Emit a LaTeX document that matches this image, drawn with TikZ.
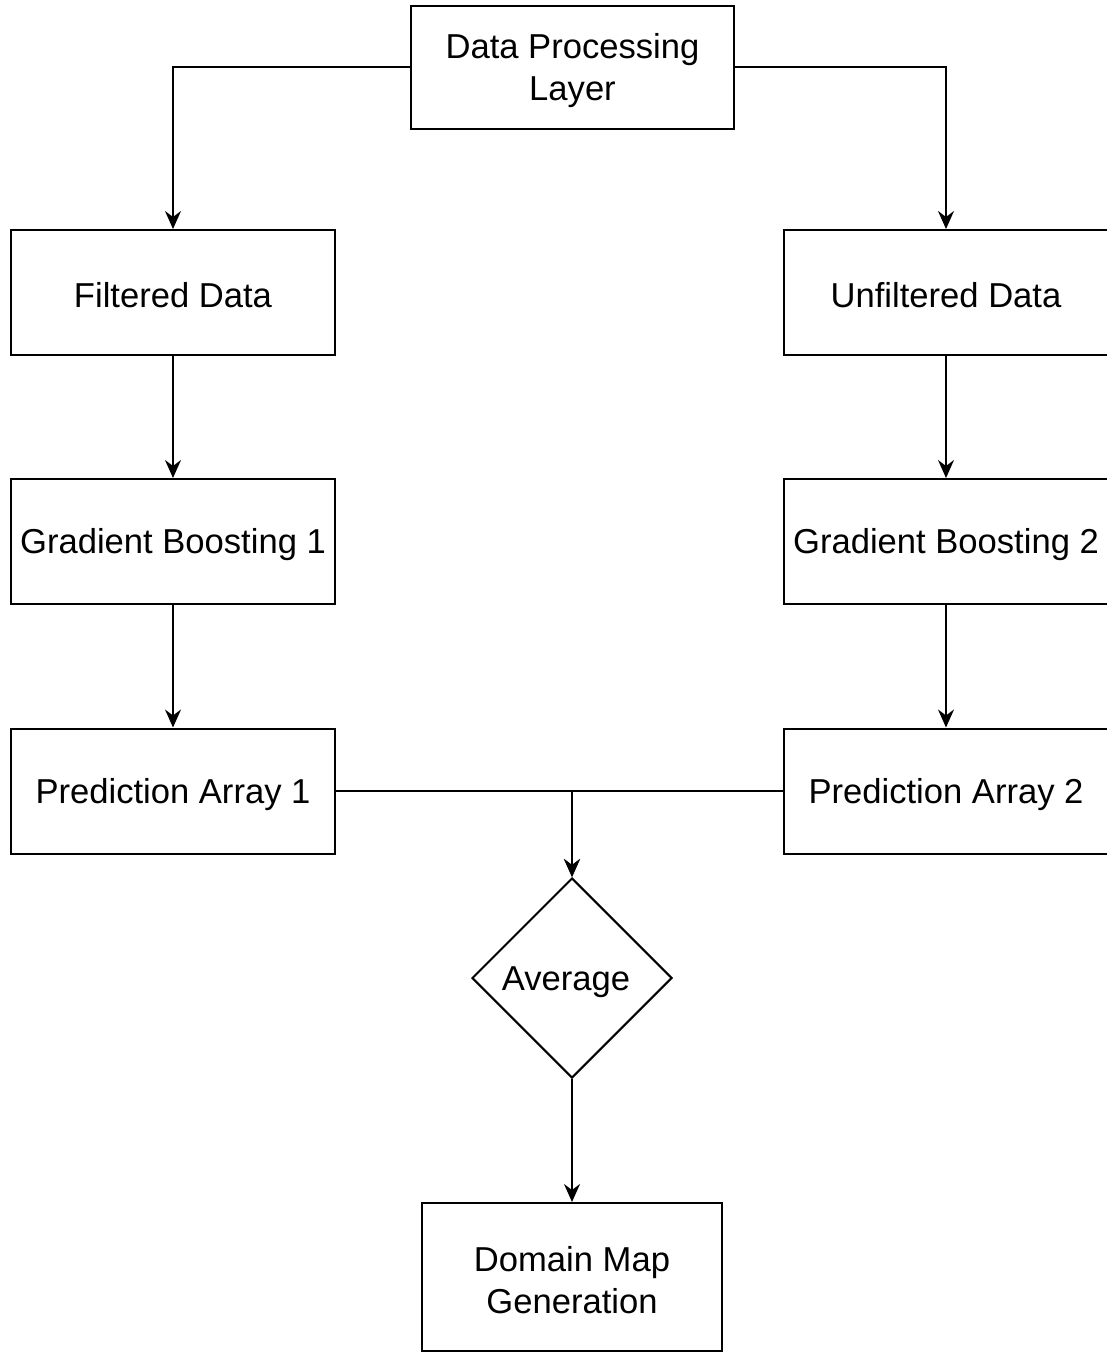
\documentclass[tikz,border=0pt]{standalone}
\usepackage{fontspec}
\setmainfont{Liberation Sans}
\usetikzlibrary{arrows.meta,shapes.geometric}
\newcommand\lowstrut{\rule{0pt}{15.6pt}}
\begin{document}
\begin{tikzpicture}[x=0.5pt,y=-0.5pt,
  every node/.style={font=\fontsize{17.3}{21}\selectfont, align=center},
  box/.style={draw, line width=1pt, rectangle, inner sep=0pt},
  rowbox/.style={box, minimum width=162pt, minimum height=62.5pt},
  decide/.style={draw, line width=1pt, diamond, inner sep=0pt, minimum width=100pt, minimum height=100pt},
  conn/.style={line width=1pt},
  arr/.style={conn, -{Stealth[length=9pt,width=8pt,inset=3pt]}}]
\useasboundingbox (0,0) rectangle (1107,1353);
\node[box, minimum width=161.5pt, minimum height=61.5pt] (top) at (572.5,67.5) {Data Processing\lowstrut\\Layer};
\node[rowbox] (filt) at (173,292.5) {\lowstrut Filtered Data};
\node[rowbox] (unf) at (946,292.5) {\lowstrut Unfiltered Data};
\node[rowbox] (gb1) at (173,541.5) {\lowstrut Gradient Boosting 1};
\node[rowbox] (gb2) at (946,541.5) {\lowstrut Gradient Boosting 2};
\node[rowbox] (pa1) at (173,791) {\lowstrut Prediction Array 1};
\node[rowbox] (pa2) at (946,791) {\lowstrut Prediction Array 2};
\node[decide] (avg) at (572,978) {\hspace*{-6pt}\lowstrut Average};
\node[box, minimum width=150pt, minimum height=74pt] (dom) at (572,1277) {Domain Map\lowstrut\\Generation};
\draw[arr] (top.west) -| (filt.north);
\draw[arr] (top.east) -| (unf.north);
\draw[arr] (filt) -- (gb1);
\draw[arr] (gb1) -- (pa1);
\draw[arr] (unf) -- (gb2);
\draw[arr] (gb2) -- (pa2);
\draw[arr] (pa1.east) -| (avg.north);
\draw[arr] (pa2.west) -| (avg.north);
\draw[arr] (avg.south) -- (dom.north);
\end{tikzpicture}
\end{document}
